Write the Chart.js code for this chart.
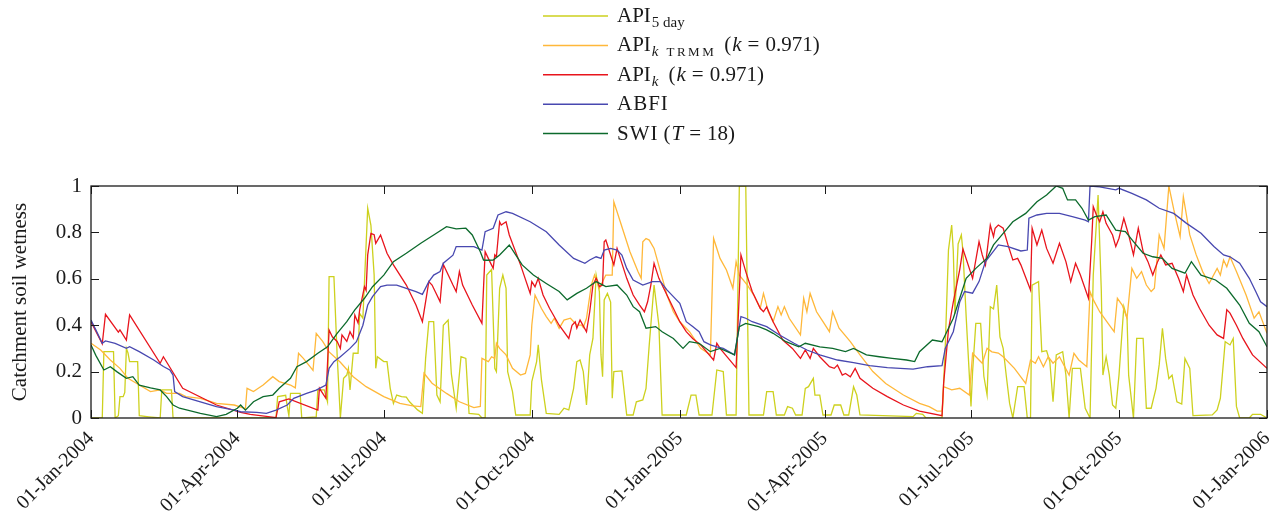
<!DOCTYPE html>
<html>
<head>
<meta charset="utf-8">
<script src="https://cdn.jsdelivr.net/npm/chart.js@4/dist/chart.umd.min.js"></script>
<style>
  html, body { margin: 0; padding: 0; background: #fff; }
  #wrap { width: 1277px; height: 523px; }
</style>
</head>
<body>
<div id="wrap"><canvas id="chart" width="1277" height="523"></canvas></div>
<script>
// x = days since 01-Jan-2004, y = catchment soil wetness
const xTickDays = [0, 91, 182, 274, 366, 456, 547, 639, 731];
const xTickLabels = ['01-Jan-2004', '01-Apr-2004', '01-Jul-2004', '01-Oct-2004', '01-Jan-2005',
                     '01-Apr-2005', '01-Jul-2005', '01-Oct-2005', '01-Jan-2006'];
const yTickLabels = ['0', '0.2', '0.4', '0.6', '0.8', '1'];

const api5 = [[0,0],[7,0],[8,0.286],[14,0.286],[15,0],[17,0.01],[18,0.092],[20,0.092],[21,0.11],[22,0.30],[23,0.28],[24,0.243],[29,0.243],[30,0.01],[36,0.005],[43,0],[44,0.121],[50,0.121],[51,0],[115,0],[116,0.092],[121,0.098],[122,0.049],[123,0.01],[124,0.106],[130,0.106],[131,0],[140,0.005],[141,0.121],[145,0.121],[147,0.07],[148,0.609],[151,0.609],[153,0.272],[155,0],[157,0.171],[159,0.185],[160,0.214],[161,0.121],[163,0.279],[166,0.279],[167,0.451],[169,0.43],[172,0.904],[174,0.83],[176,0.616],[177,0.214],[178,0.264],[182,0.243],[184,0.243],[186,0.128],[188,0.063],[190,0.099],[193,0.092],[196,0.09],[198,0.07],[203,0.035],[206,0.02],[208,0.257],[210,0.415],[213,0.415],[215,0.099],[217,0.07],[219,0.40],[222,0.422],[224,0.19],[227,0.042],[230,0.264],[233,0.257],[235,0.02],[241,0.016],[243,0],[245,0],[246,0.616],[249,0.64],[251,0.214],[252,0.2],[254,0.559],[256,0.616],[258,0.559],[259,0.20],[262,0.114],[264,0.013],[273,0.013],[274,0.157],[277,0.243],[278,0.315],[280,0.164],[283,0.02],[291,0.016],[294,0.042],[297,0.035],[300,0.128],[302,0.243],[304,0.25],[306,0.2],[308,0.056],[310,0.272],[312,0.343],[314,0.616],[316,0.545],[317,0.272],[318,0.178],[319,0.509],[321,0.537],[323,0.50],[324,0.085],[325,0.20],[330,0.203],[333,0.013],[337,0.013],[339,0.07],[343,0.078],[345,0.128],[347,0.315],[350,0.573],[353,0.40],[355,0.013],[370,0.013],[373,0.099],[376,0.099],[378,0.013],[386,0.013],[389,0.207],[393,0.20],[395,0.013],[401,0.013],[403,1.0],[407,1.0],[409,0.013],[418,0.013],[420,0.114],[424,0.114],[426,0.013],[431,0.013],[433,0.049],[436,0.042],[438,0.013],[442,0.013],[444,0.128],[446,0.135],[449,0.171],[450,0.099],[453,0.099],[455,0.013],[460,0.013],[462,0.056],[466,0.056],[468,0.013],[471,0.013],[474,0.135],[476,0.099],[478,0.013],[511,0.006],[513,0.02],[517,0.016],[519,0],[529,0],[531,0.307],[532,0.52],[533,0.724],[535,0.832],[536,0.72],[537,0.45],[538,0.60],[539,0.75],[541,0.789],[542,0.72],[544,0.437],[547,0.05],[548,0.2],[550,0.408],[553,0.408],[555,0.18],[557,0.099],[559,0.48],[561,0.47],[563,0.573],[565,0.35],[567,0.30],[569,0.178],[571,0.063],[573,0],[576,0.135],[580,0.135],[582,0],[584,0],[585,0.573],[589,0.588],[591,0.286],[594,0.29],[596,0.243],[598,0.07],[600,0.272],[604,0.286],[606,0.185],[608,0],[610,0.214],[615,0.214],[618,0.042],[621,0],[623,0.616],[626,0.961],[628,0.55],[629,0.185],[631,0.264],[633,0.185],[635,0.056],[637,0.042],[639,0.185],[642,0.48],[644,0.43],[645,0.185],[648,0],[650,0.343],[654,0.343],[656,0.042],[659,0.042],[662,0.128],[664,0.23],[666,0.387],[668,0.257],[670,0.17],[672,0.185],[675,0.07],[678,0.06],[680,0.257],[683,0.214],[685,0.01],[697,0.013],[700,0.035],[702,0.085],[705,0.329],[708,0.315],[710,0.343],[712,0.05],[714,0],[720,0],[722,0.016],[727,0.016],[731,0]];

const apiTrmm = [[0,0.322],[6,0.293],[12,0.25],[18,0.214],[23,0.171],[30,0.142],[37,0.114],[43,0.121],[47,0.106],[55,0.106],[59,0.092],[68,0.085],[78,0.063],[89,0.056],[96,0.04],[97,0.128],[101,0.114],[107,0.142],[113,0.178],[117,0.157],[124,0.142],[127,0.13],[129,0.279],[132,0.257],[138,0.205],[140,0.365],[144,0.33],[148,0.285],[155,0.24],[163,0.178],[171,0.135],[182,0.092],[192,0.063],[200,0.052],[205,0.049],[207,0.193],[212,0.15],[221,0.106],[229,0.07],[238,0.045],[242,0.05],[243,0.257],[247,0.243],[249,0.264],[251,0.257],[252,0.322],[254,0.30],[258,0.272],[262,0.214],[267,0.185],[270,0.192],[273,0.272],[274,0.40],[276,0.53],[280,0.472],[283,0.437],[286,0.408],[288,0.43],[291,0.386],[294,0.422],[298,0.43],[302,0.40],[305,0.40],[306,0.39],[308,0.43],[311,0.573],[313,0.616],[316,0.559],[320,0.616],[324,0.616],[325,0.932],[329,0.846],[335,0.717],[340,0.631],[342,0.602],[343,0.76],[345,0.774],[347,0.767],[350,0.731],[354,0.631],[358,0.53],[362,0.458],[366,0.415],[372,0.372],[379,0.30],[385,0.272],[387,0.774],[391,0.688],[395,0.638],[399,0.559],[401,0.674],[403,0.616],[408,0.573],[412,0.53],[416,0.473],[418,0.537],[421,0.458],[424,0.415],[427,0.48],[429,0.444],[431,0.48],[434,0.43],[441,0.358],[443,0.516],[445,0.458],[447,0.537],[451,0.458],[455,0.415],[459,0.372],[461,0.458],[465,0.387],[472,0.329],[478,0.272],[486,0.20],[494,0.149],[505,0.099],[515,0.063],[521,0.049],[526,0.03],[529,0.03],[530,0.135],[535,0.121],[540,0.128],[546,0.099],[548,0.279],[552,0.25],[554,0.236],[557,0.30],[560,0.285],[564,0.28],[567,0.264],[574,0.214],[581,0.149],[584,0.25],[587,0.236],[589,0.264],[592,0.221],[595,0.264],[598,0.236],[602,0.264],[608,0.185],[611,0.279],[614,0.25],[619,0.221],[621,0.545],[623,0.51],[627,0.458],[633,0.40],[636,0.372],[638,0.516],[641,0.487],[644,0.43],[647,0.645],[650,0.602],[653,0.631],[656,0.573],[659,0.545],[661,0.559],[664,0.789],[667,0.731],[670,1.0],[673,0.90],[677,0.782],[679,0.954],[683,0.789],[687,0.703],[691,0.631],[695,0.58],[700,0.645],[702,0.616],[704,0.681],[706,0.652],[708,0.695],[712,0.631],[718,0.53],[723,0.43],[726,0.458],[731,0.365]];

const apiK = [[0,0.415],[7,0.32],[9,0.447],[17,0.37],[18,0.38],[22,0.336],[24,0.444],[43,0.236],[45,0.264],[57,0.128],[78,0.056],[93,0.024],[99,0.016],[115,0.002],[117,0.07],[123,0.082],[141,0.034],[142,0.128],[146,0.085],[148,0.379],[150,0.35],[153,0.33],[155,0.30],[156,0.358],[159,0.33],[161,0.372],[163,0.345],[164,0.444],[166,0.41],[167,0.466],[170,0.566],[171,0.55],[172,0.703],[174,0.796],[176,0.79],[177,0.753],[180,0.789],[184,0.71],[188,0.66],[196,0.573],[202,0.487],[206,0.415],[210,0.588],[212,0.573],[215,0.53],[217,0.501],[219,0.662],[225,0.573],[227,0.545],[229,0.631],[231,0.573],[237,0.487],[243,0.408],[245,0.717],[248,0.673],[250,0.645],[251,0.703],[252,0.695],[254,0.846],[255,0.832],[258,0.846],[260,0.789],[267,0.66],[273,0.537],[274,0.588],[276,0.566],[278,0.602],[281,0.53],[285,0.473],[291,0.40],[297,0.343],[299,0.40],[301,0.415],[302,0.387],[304,0.422],[308,0.372],[310,0.458],[312,0.573],[314,0.602],[315,0.588],[316,0.566],[318,0.573],[319,0.76],[320,0.767],[322,0.724],[325,0.66],[327,0.731],[329,0.688],[333,0.602],[337,0.53],[341,0.487],[344,0.458],[346,0.501],[348,0.573],[350,0.667],[353,0.602],[358,0.53],[362,0.473],[366,0.415],[370,0.372],[374,0.343],[379,0.315],[387,0.25],[389,0.322],[391,0.30],[401,0.217],[404,0.703],[407,0.631],[411,0.545],[416,0.473],[418,0.458],[420,0.479],[424,0.415],[430,0.336],[436,0.30],[441,0.257],[444,0.293],[447,0.257],[449,0.30],[453,0.264],[459,0.221],[462,0.214],[464,0.228],[467,0.185],[469,0.192],[472,0.178],[475,0.214],[478,0.171],[486,0.128],[495,0.092],[505,0.056],[515,0.03],[529,0.01],[530,0.15],[533,0.38],[536,0.5],[540,0.64],[542,0.728],[548,0.602],[552,0.76],[554,0.703],[556,0.66],[559,0.832],[561,0.782],[562,0.818],[564,0.832],[567,0.818],[570,0.746],[573,0.681],[576,0.688],[578,0.66],[584,0.552],[585,0.818],[588,0.746],[591,0.81],[594,0.731],[598,0.667],[602,0.753],[606,0.674],[609,0.588],[612,0.667],[615,0.616],[620,0.516],[622,0.76],[623,0.911],[625,0.875],[627,0.846],[629,0.889],[631,0.839],[635,0.789],[637,0.739],[639,0.775],[642,0.861],[645,0.789],[648,0.703],[651,0.818],[654,0.717],[657,0.674],[660,0.616],[663,0.674],[665,0.703],[668,0.66],[672,0.667],[676,0.602],[679,0.545],[681,0.616],[685,0.53],[689,0.473],[695,0.40],[700,0.358],[704,0.343],[706,0.467],[708,0.452],[712,0.40],[716,0.343],[722,0.272],[731,0.214]];

const abfi = [[0,0.422],[3,0.38],[7,0.322],[9,0.332],[15,0.322],[22,0.30],[24,0.307],[30,0.286],[39,0.25],[45,0.222],[49,0.207],[51,0.185],[52,0.114],[57,0.092],[68,0.07],[78,0.049],[89,0.034],[93,0.027],[103,0.024],[109,0.02],[115,0.034],[122,0.056],[126,0.085],[134,0.106],[140,0.12],[146,0.142],[148,0.214],[151,0.243],[155,0.264],[161,0.30],[165,0.329],[169,0.40],[172,0.487],[175,0.523],[180,0.566],[184,0.573],[190,0.573],[196,0.559],[202,0.545],[206,0.533],[210,0.588],[213,0.616],[217,0.631],[219,0.667],[225,0.702],[227,0.739],[238,0.739],[243,0.724],[245,0.803],[250,0.818],[253,0.875],[258,0.889],[262,0.882],[273,0.846],[283,0.803],[291,0.746],[300,0.688],[307,0.667],[310,0.681],[314,0.695],[317,0.688],[319,0.724],[323,0.731],[327,0.724],[330,0.702],[333,0.645],[337,0.595],[343,0.573],[349,0.588],[354,0.588],[358,0.552],[362,0.523],[366,0.494],[370,0.415],[374,0.394],[378,0.372],[381,0.329],[385,0.315],[389,0.307],[393,0.30],[400,0.272],[404,0.437],[407,0.43],[411,0.415],[420,0.394],[428,0.358],[437,0.322],[445,0.293],[453,0.272],[464,0.25],[474,0.239],[484,0.226],[495,0.217],[511,0.211],[520,0.221],[529,0.226],[531,0.30],[536,0.372],[540,0.5],[543,0.545],[548,0.538],[552,0.588],[556,0.674],[564,0.746],[570,0.739],[578,0.72],[582,0.724],[583,0.861],[588,0.875],[594,0.882],[602,0.882],[610,0.868],[618,0.853],[620,0.846],[621,1.0],[627,0.996],[637,0.983],[639,0.99],[647,0.968],[656,0.94],[664,0.904],[673,0.882],[681,0.839],[690,0.796],[698,0.739],[704,0.703],[708,0.695],[714,0.667],[720,0.602],[724,0.545],[727,0.501],[731,0.48]];

const swi = [[0,0.315],[3,0.27],[8,0.207],[12,0.221],[16,0.20],[22,0.171],[26,0.178],[30,0.142],[37,0.13],[43,0.121],[47,0.092],[51,0.056],[55,0.042],[60,0.034],[68,0.02],[78,0.006],[84,0.016],[91,0.042],[93,0.056],[96,0.034],[101,0.07],[107,0.092],[113,0.099],[117,0.128],[124,0.171],[128,0.221],[134,0.243],[141,0.279],[147,0.307],[153,0.365],[159,0.415],[164,0.466],[170,0.516],[175,0.566],[182,0.616],[188,0.674],[196,0.71],[205,0.753],[213,0.789],[221,0.825],[227,0.815],[233,0.818],[237,0.789],[242,0.717],[244,0.681],[246,0.68],[250,0.681],[254,0.703],[260,0.746],[264,0.703],[268,0.66],[275,0.616],[283,0.58],[291,0.545],[296,0.509],[302,0.537],[308,0.559],[314,0.588],[320,0.566],[327,0.573],[333,0.53],[337,0.48],[341,0.458],[345,0.387],[351,0.394],[355,0.372],[362,0.343],[368,0.30],[372,0.329],[378,0.322],[385,0.286],[391,0.30],[400,0.272],[403,0.394],[407,0.408],[415,0.394],[420,0.38],[424,0.365],[432,0.329],[440,0.307],[444,0.322],[453,0.307],[461,0.30],[469,0.286],[474,0.30],[482,0.272],[490,0.264],[498,0.257],[507,0.25],[512,0.243],[515,0.286],[523,0.336],[529,0.329],[536,0.43],[540,0.516],[544,0.602],[550,0.645],[557,0.689],[561,0.746],[567,0.796],[573,0.846],[581,0.882],[588,0.932],[594,0.961],[600,1.0],[604,0.99],[607,0.94],[612,0.94],[616,0.904],[620,0.853],[624,0.868],[631,0.875],[637,0.81],[643,0.803],[648,0.76],[654,0.71],[660,0.695],[666,0.688],[672,0.645],[680,0.624],[684,0.674],[690,0.616],[699,0.595],[706,0.559],[714,0.487],[720,0.408],[726,0.372],[731,0.307]];

const SERIF = '"Liberation Serif", "DejaVu Serif", serif';
const INK = '#1a1a1a';

const toXY = arr => arr.map(p => ({ x: p[0], y: p[1] }));

// legend entries as rich text pieces (subscripts / italics); g = extra gap before the piece
const legendRows = [
  { color: '#cdd11e', parts: [{ t: 'API' }, { t: '5 day', s: 15, dy: 5, g: 1 }] },
  { color: '#ffb83a', parts: [{ t: 'API' }, { t: 'k', s: 15, it: true, dy: 5, g: 1 }, { t: 'TRMM', s: 13, dy: 5, sp: 2.5, g: 8 }, { t: '(', g: 8 }, { t: 'k', it: true, g: 1 }, { t: '=', g: 6 }, { t: '0.971)', g: 6 }] },
  { color: '#e8141c', parts: [{ t: 'API' }, { t: 'k', s: 15, it: true, dy: 5, g: 1 }, { t: '(', g: 10 }, { t: 'k', it: true, g: 1 }, { t: '=', g: 6 }, { t: '0.971)', g: 6 }] },
  { color: '#4848b0', parts: [{ t: 'ABFI', sp: 1 }] },
  { color: '#0c6a2c', parts: [{ t: 'SWI', sp: 1 }, { t: '(', g: 5 }, { t: 'T', it: true, g: 1 }, { t: '=', g: 6 }, { t: '18)', g: 6 }] }
];

const legendPlugin = {
  id: 'richLegend',
  afterDraw(chart) {
    const ctx = chart.ctx;
    ctx.save();
    legendRows.forEach((row, i) => {
      const ly = 16 + i * 29.4;
      ctx.strokeStyle = row.color;
      ctx.lineWidth = 1.5;
      ctx.beginPath();
      ctx.moveTo(543, ly);
      ctx.lineTo(608, ly);
      ctx.stroke();
      let x = 617;
      const base = ly + 6;
      ctx.fillStyle = INK;
      ctx.textBaseline = 'alphabetic';
      ctx.textAlign = 'left';
      row.parts.forEach(p => {
        x += p.g || 0;
        ctx.font = (p.it ? 'italic ' : '') + (p.s || 21) + 'px ' + SERIF;
        ctx.letterSpacing = (p.sp || 0) + 'px';
        ctx.fillText(p.t, x, base + (p.dy || 0));
        x += ctx.measureText(p.t).width;
      });
      ctx.letterSpacing = '0px';
    });
    ctx.restore();
  }
};

// box around the plot with inward tick marks on all four sides
const framePlugin = {
  id: 'frame',
  afterDatasetsDraw(chart) {
    const { ctx, chartArea: a, scales } = chart;
    ctx.save();
    ctx.strokeStyle = INK;
    ctx.lineWidth = 1.3;
    ctx.strokeRect(a.left, a.top, a.right - a.left, a.bottom - a.top);
    ctx.beginPath();
    xTickDays.forEach(d => {
      const px = Math.round(scales.x.getPixelForValue(d)) + 0.5;
      ctx.moveTo(px, a.bottom); ctx.lineTo(px, a.bottom - 8);
      ctx.moveTo(px, a.top); ctx.lineTo(px, a.top + 8);
    });
    [0, 0.2, 0.4, 0.6, 0.8, 1].forEach(v => {
      const py = Math.round(scales.y.getPixelForValue(v)) + 0.5;
      ctx.moveTo(a.left, py); ctx.lineTo(a.left + 8, py);
      ctx.moveTo(a.right, py); ctx.lineTo(a.right - 8, py);
    });
    ctx.lineWidth = 1;
    ctx.stroke();
    ctx.restore();
  }
};

new Chart(document.getElementById('chart'), {
  type: 'line',
  data: {
    datasets: [
      { label: 'API 5 day', data: toXY(api5), borderColor: legendRows[0].color, order: 5 },
      { label: 'API k TRMM (k = 0.971)', data: toXY(apiTrmm), borderColor: legendRows[1].color, order: 4 },
      { label: 'API k (k = 0.971)', data: toXY(apiK), borderColor: legendRows[2].color, order: 3 },
      { label: 'ABFI', data: toXY(abfi), borderColor: legendRows[3].color, order: 2 },
      { label: 'SWI (T = 18)', data: toXY(swi), borderColor: legendRows[4].color, order: 1 }
    ]
  },
  options: {
    responsive: false,
    animation: false,
    devicePixelRatio: 1,
    layout: { padding: { top: 186, right: 10, left: 0, bottom: 0 } },
    elements: {
      point: { radius: 0 },
      line: { borderWidth: 1.3, tension: 0, fill: false }
    },
    plugins: { legend: { display: false }, tooltip: { enabled: false } },
    scales: {
      x: {
        type: 'linear',
        min: 0,
        max: 731,
        grid: { display: false, drawTicks: false },
        border: { display: false },
        afterBuildTicks: s => { s.ticks = xTickDays.map(v => ({ value: v })); },
        afterFit: s => { s.height = 105; s.paddingLeft = 0; s.paddingRight = 0; },
        ticks: {
          autoSkip: false,
          minRotation: 45,
          maxRotation: 45,
          padding: 9,
          color: INK,
          font: { family: SERIF, size: 20 },
          callback: v => xTickLabels[xTickDays.indexOf(v)]
        }
      },
      y: {
        min: 0,
        max: 1,
        grid: { display: false, drawTicks: false },
        border: { display: false },
        afterFit: s => { s.width = 91; },
        ticks: {
          stepSize: 0.2,
          padding: 9,
          color: INK,
          font: { family: SERIF, size: 21 },
          callback: v => yTickLabels[Math.round(v * 5)]
        },
        title: {
          display: true,
          text: 'Catchment soil wetness',
          color: INK,
          font: { family: SERIF, size: 21 },
          padding: { top: 8, bottom: 0 }
        }
      }
    }
  },
  plugins: [framePlugin, legendPlugin]
});
</script>
</body>
</html>
